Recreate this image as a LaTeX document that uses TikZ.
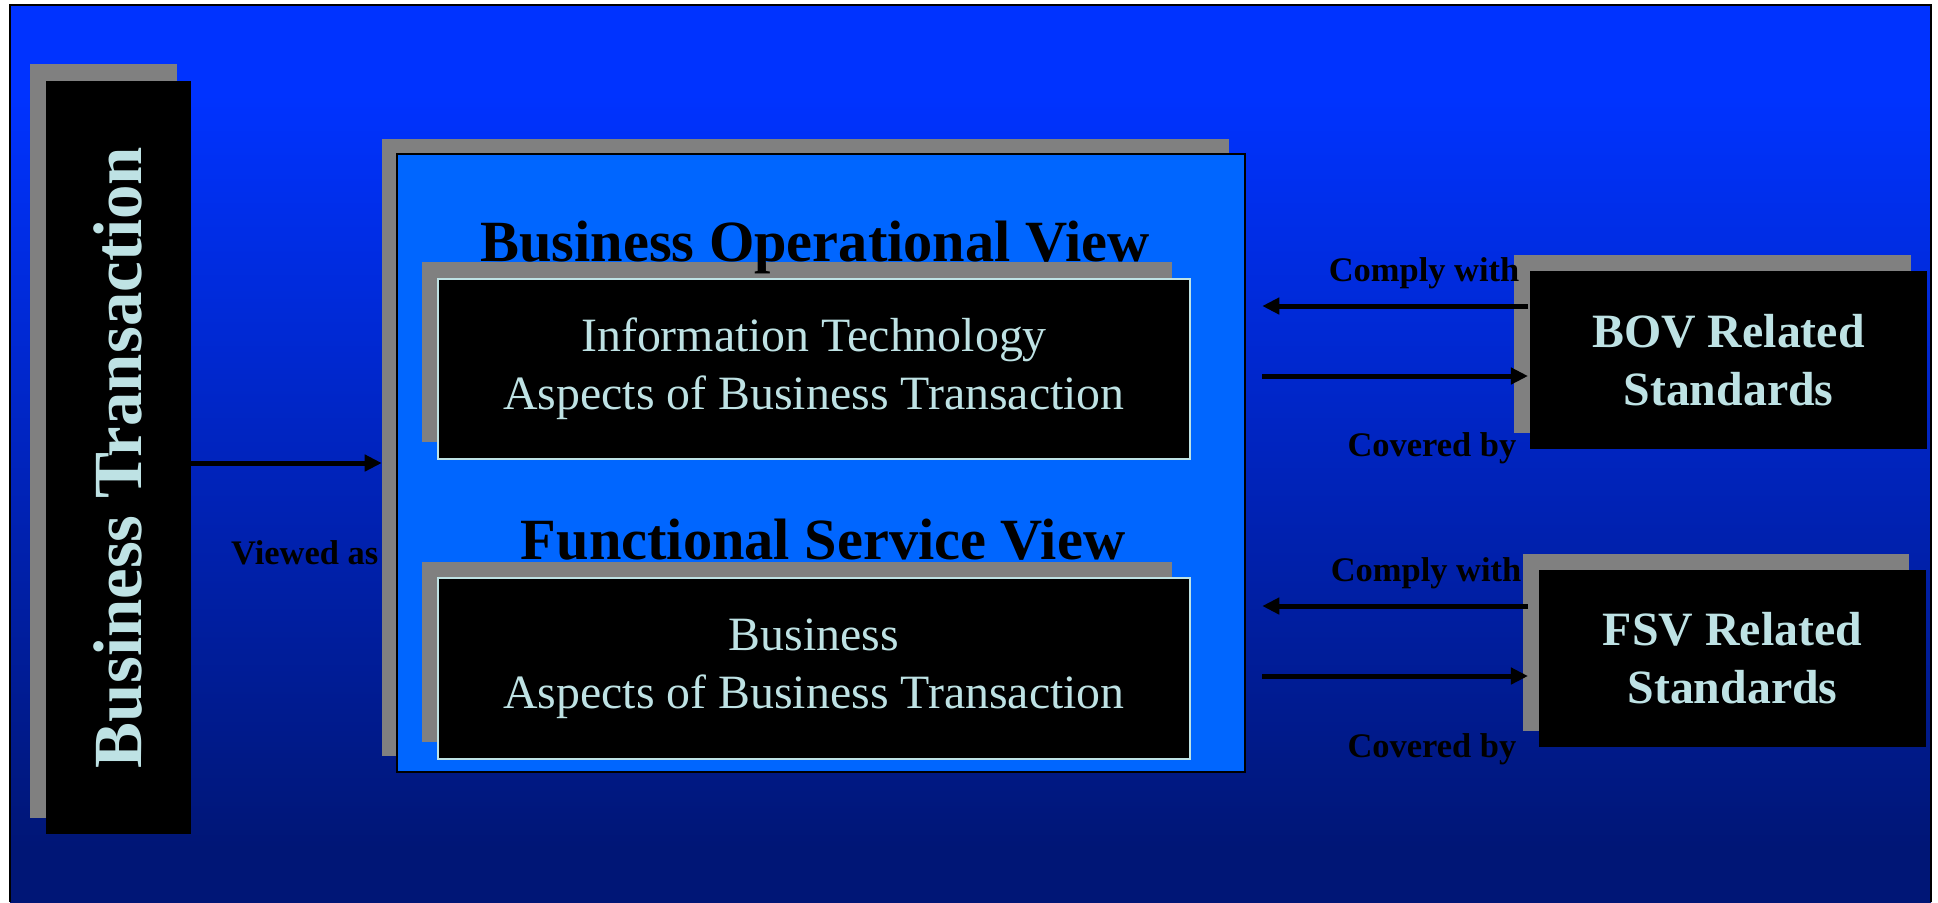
\documentclass[tikz,border=0pt]{standalone}
\usepackage{fontspec}
\setmainfont{Liberation Serif}
\usetikzlibrary{arrows.meta}

\definecolor{bgtop}{RGB}{0,51,255}
\definecolor{bgmid}{RGB}{0,36,190}
\definecolor{bgbot}{RGB}{0,22,118}
\definecolor{panelblue}{RGB}{0,102,255}
\definecolor{shadowgray}{RGB}{128,128,128}
\definecolor{paletext}{RGB}{190,226,228}

\pgfdeclareverticalshading{bgfade}{100bp}{color(0bp)=(bgbot); color(28bp)=(bgbot); color(50bp)=(bgmid); color(70bp)=(bgtop); color(100bp)=(bgtop)}

\begin{document}
\begin{tikzpicture}[x=0.01cm, y=-0.01cm,
    shadowbox/.style={fill=shadowgray, inner sep=0, outer sep=0},
    darkbox/.style={fill=black, inner sep=0, outer sep=0, text=paletext, align=center},
    viewtitle/.style={font=\fontsize{16.6}{20}\selectfont\bfseries, inner sep=0},
    linktext/.style={font=\fontsize{9.8}{12}\selectfont\bfseries, inner sep=0},
    link/.style={line width=0.05cm, -{Triangle[length=0.17cm,width=0.16cm]}}]

    \useasboundingbox (0,0) rectangle (1938,902);
    \fill[white] (0,0) rectangle (1938,902);
    \shade[shading=bgfade] (10,5) rectangle (1931,902);
    \draw[line width=0.02cm] (10,902) -- (10,5) -- (1931,5) -- (1931,902);

    % left column
    \node[shadowbox, minimum width=1.47cm, minimum height=7.54cm] (BTsh) at (103.5,441) {};
    \node[darkbox, rotate=90, minimum width=7.53cm, minimum height=1.45cm,
          font=\fontsize{19.6}{23}\selectfont\bfseries] (BT) at (118.5,457.5) {Business Transaction};

    % the two views
    \node[shadowbox, minimum width=8.47cm, minimum height=6.17cm] (PanelSh) at (805.5,447.5) {};
    \node[fill=panelblue, draw=black, line width=0.02cm, inner sep=0,
          minimum width=8.48cm, minimum height=6.18cm] (Panel) at (821,463) {};

    \node[shadowbox, minimum width=7.5cm, minimum height=1.8cm] (ITsh) at (797,352) {};
    \node[darkbox, draw=paletext, line width=0.015cm, minimum width=7.52cm, minimum height=1.8cm,
          font=\fontsize{13.6}{16.5}\selectfont] (IT) at (814,369) {Information Technology\\Aspects of Business Transaction};
    \node[shadowbox, minimum width=7.5cm, minimum height=1.8cm] (BUsh) at (797,652) {};
    \node[darkbox, draw=paletext, line width=0.015cm, minimum width=7.52cm, minimum height=1.81cm,
          font=\fontsize{13.6}{16.5}\selectfont] (BU) at (814,668.5) {Business\\Aspects of Business Transaction};

    \node[viewtitle, anchor=base] (BOVt) at (815,261) {Business Operational View};
    \node[viewtitle, anchor=base] (FSVt) at (823,559) {Functional Service View};

    % standards
    \node[shadowbox, minimum width=3.97cm, minimum height=1.78cm] (BOVsh) at (1712.5,344) {};
    \node[darkbox, minimum width=3.97cm, minimum height=1.78cm,
          font=\fontsize{13.6}{16.5}\selectfont\bfseries] (BOV) at (1728.5,360) {BOV Related\\Standards};
    \node[shadowbox, minimum width=3.86cm, minimum height=1.77cm] (FSVsh) at (1716,642.5) {};
    \node[darkbox, minimum width=3.87cm, minimum height=1.77cm,
          font=\fontsize{13.6}{16.5}\selectfont\bfseries] (FSV) at (1732.5,658.5) {FSV Related\\Standards};

    % connectors
    \coordinate (BTout) at ([yshift=-0.055cm]BT.south);
    \coordinate (BOVout) at (1528,306);
    \coordinate (BOVin) at (1528,376);
    \coordinate (FSVout) at (1528,606);
    \coordinate (FSVin) at (1528,676);

    \draw[link] (BTout) -- (BTout -| PanelSh.west);
    \draw[link, shorten >=0.16cm] (BOVout) -- (BOVout -| Panel.east);
    \draw[link, shorten <=0.16cm] (BOVin -| Panel.east) -- (BOVin);
    \draw[link, shorten >=0.16cm] (FSVout) -- (FSVout -| Panel.east);
    \draw[link, shorten <=0.16cm] (FSVin -| Panel.east) -- (FSVin);

    \node[linktext, anchor=base east] (VWa) at (379,564) {Viewed as};
    \node[linktext, anchor=base east] (BOVcw) at (1520,281) {Comply with};
    \node[linktext, anchor=base east] (BOVcb) at (1517,456) {Covered by};
    \node[linktext, anchor=base east] (FSVcw) at (1522,581) {Comply with};
    \node[linktext, anchor=base east] (FSVcb) at (1517,757) {Covered by};
\end{tikzpicture}
\end{document}
